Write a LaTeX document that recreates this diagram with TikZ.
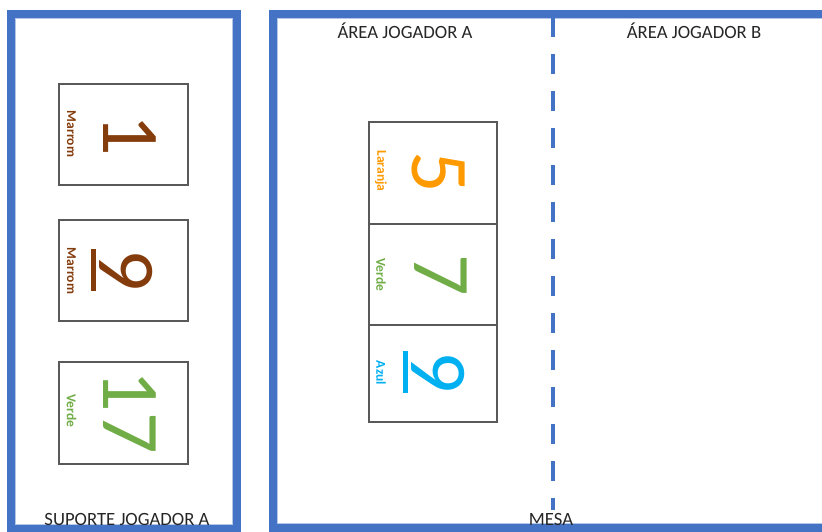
\documentclass[tikz,border=0pt]{standalone}
\usepackage{fontspec}
\setmainfont{Carlito}
\definecolor{frameblue}{HTML}{4472C4}
\definecolor{framein}{HTML}{B4C7E7}
\definecolor{cardgray}{HTML}{595959}
\definecolor{brownc}{HTML}{843C0C}
\definecolor{greenc}{HTML}{70AD47}
\definecolor{orangec}{HTML}{FF9900}
\definecolor{bluec}{HTML}{00B0F0}
\definecolor{txt}{HTML}{262626}
\newcommand\barnine[1]{\vtop{\hbox{#1}\kern4pt\hrule height 5pt}}
\tikzset{
  frame/.style={draw=frameblue, line width=8pt},
  card/.style={draw=cardgray, line width=1.2pt, fill=white},
  num/.style={rotate=-90, font=\fontsize{82}{82}\selectfont, inner sep=0pt},
  lbl/.style={rotate=-90, font=\fontsize{13.5}{15}\selectfont\bfseries, inner sep=0pt},
  title/.style={font=\fontsize{18.7}{21}\selectfont, text=txt, inner sep=0pt},
  divider/.style={draw=frameblue, line width=4.5pt, dash pattern=on 20pt off 17pt}
}
\begin{document}
\begin{tikzpicture}[x=1pt,y=-1pt]
\useasboundingbox (0,0) rectangle (822,531);
% left support frame
\draw[frame] (11,13.5) rectangle (237,529);
\draw[framein, line width=0.8pt] (15.5,18) rectangle (232.5,524.5);
% right table frame
\draw[frame] (272.5,13.5) rectangle (840,528);
\draw[framein, line width=0.8pt] (277,18) rectangle (840,523.5);
% divider
\coordinate (dtop) at (553,17);
\coordinate (dbot) at (553,510);
\draw[divider] (dtop) -- (dbot);
% titles
\node[title] (tA) at (405,31) {ÁREA JOGADOR A};
\node[title] (tB) at (694,31) {ÁREA JOGADOR B};
\node[title] (tS) at (127,519) {SUPORTE JOGADOR A};
\node[title] (tM) at (551,519) {MESA};
% left cards
\draw[card] (59,84) rectangle (188,185);
\draw[card] (59,220) rectangle (188,321);
\draw[card] (59,362) rectangle (188,464);
\node[num, text=brownc] (n1) at (130,135) {1};
\node[lbl, text=brownc] (l1) at (71.5,134) {Marrom};
\node[num, text=brownc] (n2) at (122,270) {\barnine{9}};
\node[lbl, text=brownc] (l2) at (71.5,271) {Marrom};
\node[num, text=greenc] (n3) at (130,412) {17};
\node[lbl, text=greenc] (l3) at (71.5,411) {Verde};
% right cards
\draw[card] (369,122) rectangle (497,224);
\draw[card] (369,224) rectangle (497,325);
\draw[card] (369,325) rectangle (497,422);
\node[num, text=orangec] (n4) at (439,172) {5};
\node[lbl, text=orangec] (l4) at (381,171) {Laranja};
\node[num, text=greenc] (n5) at (441,275) {7};
\node[lbl, text=greenc] (l5) at (381,275) {Verde};
\node[num, text=bluec] (n6) at (434,372) {\barnine{9}};
\node[lbl, text=bluec] (l6) at (381,373) {Azul};
\end{tikzpicture}
\end{document}
